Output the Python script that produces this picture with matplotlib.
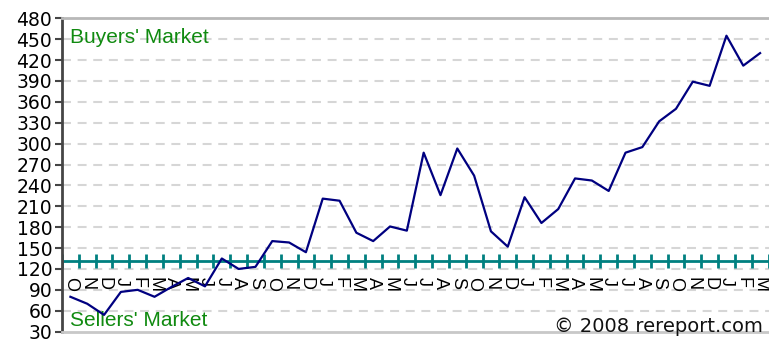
import numpy as np
import matplotlib.pyplot as plt

# monthly index, Oct 2004 .. Mar 2008
months = ['O', 'N', 'D',
          'J', 'F', 'M', 'A', 'M', 'J', 'J', 'A', 'S', 'O', 'N', 'D',
          'J', 'F', 'M', 'A', 'M', 'J', 'J', 'A', 'S', 'O', 'N', 'D',
          'J', 'F', 'M', 'A', 'M', 'J', 'J', 'A', 'S', 'O', 'N', 'D',
          'J', 'F', 'M']
values = [80, 70, 54, 87, 90, 80, 94, 107, 95, 135,
          120, 123, 160, 158, 144, 221, 218, 172, 160, 181,
          175, 287, 226, 293, 254, 174, 152, 223, 186, 206,
          250, 247, 232, 287, 295, 332, 350, 389, 383, 455,
          412, 430]
threshold = 131
yticks = list(range(30, 481, 30))

W, H = 769, 341
fig = plt.figure(figsize=(W / 100, H / 100), dpi=100)
ax = fig.add_axes([62 / W, (H - 331.6) / H, 706.5 / W, (331.6 - 18.3) / H])

n = len(values)
x = np.arange(n)
ax.set_xlim(-0.5, n - 0.5)
ax.set_ylim(30, 480)

# dashed grid
for v in yticks[1:-1]:
    ax.axhline(v, color='#d6d6d6', lw=1.5, ls=(0, (4.3, 3.2)), zorder=0)

# market divide line with category ticks
ax.axhline(threshold, color='#008080', lw=2, zorder=2)
bounds = np.arange(n + 1) - 0.5
ax.plot(bounds, [threshold] * len(bounds), ls='none', marker='|',
        ms=10, mew=2, color='#008080', zorder=2)

ax.plot(x, values, color='#000080', lw=1.6, zorder=4)

for i, m in enumerate(months):
    ax.annotate(m, (i, threshold), xytext=(0, -11.5), textcoords='offset points',
                rotation=-90, ha='center', va='top', fontsize=13,
                family='Liberation Sans', zorder=3)

ax.set_xticks([])
ax.set_yticks(yticks)
ax.set_yticklabels([str(v) for v in yticks], family='DejaVu Sans', fontsize=13.5)
ax.tick_params(axis='y', length=5, width=1.5, color='#454545', pad=2)

ax.spines['left'].set_color('#454545')
ax.spines['left'].set_linewidth(2)
ax.spines['top'].set_color('#b8b8b8')
ax.spines['top'].set_linewidth(2)
ax.spines['bottom'].set_color('#c8c8c8')
ax.spines['bottom'].set_linewidth(2)
ax.spines['right'].set_visible(False)

ax.text(70 / W, (H - 43.3) / H, "Buyers' Market", transform=fig.transFigure,
        color='#108a10', fontsize=15, family='Liberation Sans', va='baseline')
ax.text(70 / W, (H - 325.5) / H, "Sellers' Market", transform=fig.transFigure,
        color='#108a10', fontsize=15, family='Liberation Sans', va='baseline')
ax.text(763 / W, (H - 331.5) / H, '\u00a9 2008 rereport.com', transform=fig.transFigure,
        color='#111111', fontsize=14, family='DejaVu Sans', ha='right', va='baseline')

fig.savefig('out.png', dpi=100)
